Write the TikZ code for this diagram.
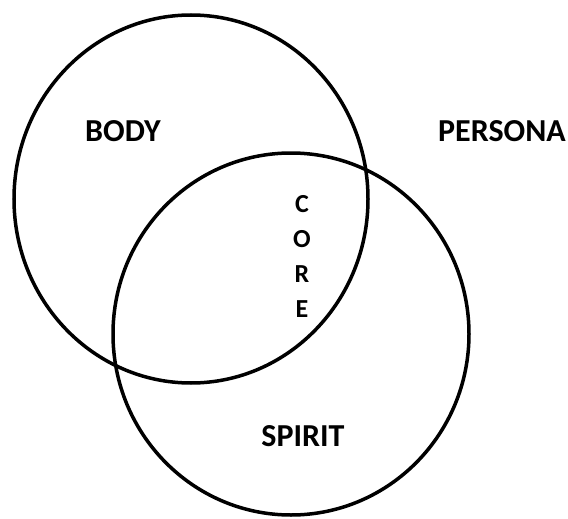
\documentclass[tikz,border=0pt]{standalone}
\usepackage{fontspec}
\setmainfont{Carlito}
\usepackage{tikz}
\usetikzlibrary{shapes.geometric}

\begin{document}
\begin{tikzpicture}[x=1pt, y=-1pt,
  ring/.style={draw, ellipse, line width=3.5pt, inner sep=0pt, outer sep=0pt},
  lbl/.style={anchor=base, inner sep=0pt, font=\fontsize{32}{38}\selectfont\bfseries},
  letter/.style={anchor=base, inner sep=0pt, font=\fontsize{26}{30}\selectfont\bfseries}]
  \useasboundingbox (0,0) rectangle (568,519);

  \node[ring, minimum width=354pt, minimum height=368pt] (body) at (191,199) {};
  \node[ring, minimum width=356pt, minimum height=362pt] (spirit) at (291,334) {};

  \node[lbl] (bodylbl) at (123,141) {BODY};
  \node[lbl] (personalbl) at (502,141) {PERSONA};
  \node[lbl] (spiritlbl) at (303,446) {SPIRIT};

  \foreach \y/\ch in {212/C, 247/O, 282/R, 317/E} {
    \node[letter] (core\ch) at (302,\y) {\ch};
  }
\end{tikzpicture}
\end{document}
